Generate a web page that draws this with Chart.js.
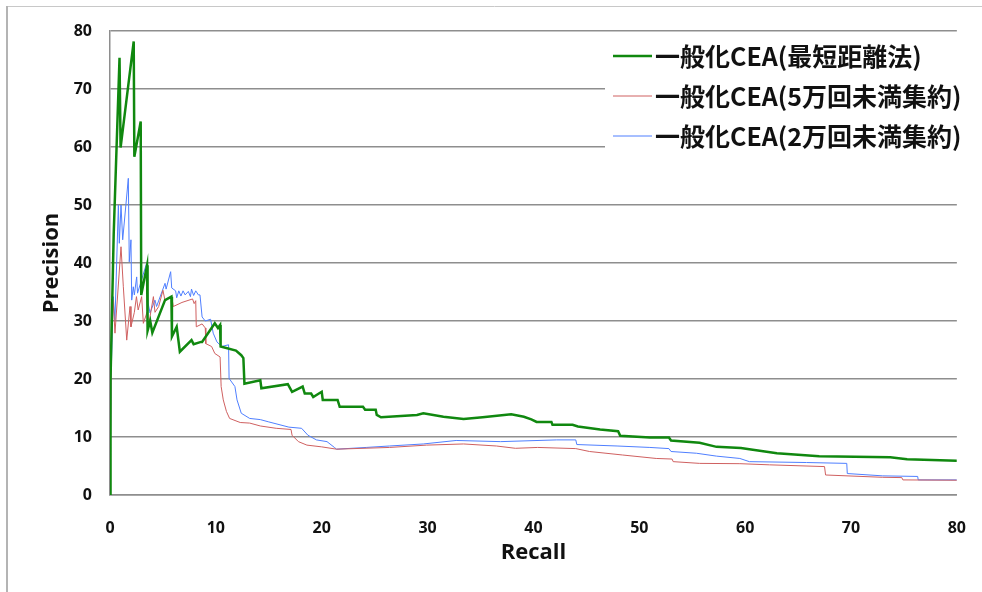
<!DOCTYPE html>
<html>
<head>
<meta charset="utf-8">
<script src="https://cdn.jsdelivr.net/npm/chart.js@4"></script>
<style>
  html, body { margin: 0; padding: 0; background: #fff; }
  #wrap { width: 982px; height: 592px; }
</style>
</head>
<body>
<div id="wrap"><canvas id="chart" width="982" height="592"></canvas></div>
<script>
  // 一般化CEA(最短距離法)
  const greenRecall = [0, 0.05, 0.35, 0.9, 1.0, 2.24, 2.3, 2.9, 2.95, 3.5, 3.55, 3.8, 4.0, 5.2, 5.8, 5.85, 6.3, 6.6, 7.7, 7.9, 8.6, 8.7, 9.9, 10.2, 10.4, 10.45, 11.9, 12.4, 12.6, 12.7, 14.2, 14.3, 16.8, 17.2, 18.2, 18.4, 19.0, 19.2, 20.0, 20.1, 21.5, 21.7, 23.9, 24.1, 25.1, 25.2, 25.6, 29.0, 29.6, 31.5, 33.4, 35.2, 37.9, 39.1, 39.8, 40.3, 41.7, 41.8, 43.7, 44.2, 46.3, 48.0, 48.2, 51.0, 52.8, 53.0, 55.7, 57.3, 59.6, 60.4, 63.0, 67.0, 73.7, 75.3, 80.0];
  const greenPrecision = [0, 20, 45, 75.4, 59.9, 78.2, 58.3, 64.4, 34.5, 39.6, 28.3, 30.0, 28.0, 33.6, 34.2, 27.3, 29.0, 24.7, 26.7, 26.0, 26.4, 26.4, 29.6, 28.8, 29.3, 25.6, 24.9, 24.1, 23.6, 19.2, 19.8, 18.4, 19.1, 17.8, 18.7, 17.5, 17.5, 16.9, 17.8, 16.4, 16.4, 15.2, 15.2, 14.7, 14.7, 13.8, 13.4, 13.8, 14.1, 13.5, 13.1, 13.4, 13.9, 13.5, 13.05, 12.6, 12.6, 12.1, 12.1, 11.8, 11.3, 11.0, 10.2, 9.9, 9.9, 9.4, 9.0, 8.3, 8.1, 7.9, 7.2, 6.7, 6.5, 6.15, 5.9];

  // 一般化CEA(5万回未満集約)
  const redRecall = [0, 0.1, 0.2, 0.3, 0.47, 1.04, 1.26, 1.58, 1.89, 1.98, 2.3, 2.5, 2.66, 2.99, 3.15, 3.5, 3.62, 4.1, 4.25, 4.6, 5.0, 5.2, 5.83, 5.98, 6.8, 7.8, 7.95, 8.1, 8.15, 8.7, 9.0, 9.05, 9.6, 9.9, 10.4, 10.5, 10.7, 11.0, 11.3, 12.3, 13.2, 14.2, 15.7, 17.1, 17.2, 17.8, 18.6, 20.0, 21.4, 26.4, 29.9, 33.4, 36.5, 38.3, 40.4, 44.0, 45.3, 48.4, 51.6, 53.1, 53.2, 55.7, 59.5, 62.3, 67.5, 67.6, 73.0, 74.8, 74.9, 80.0];
  const redPrecision = [0, 20, 33.6, 33.6, 27.9, 42.8, 35.9, 26.7, 32.5, 29.0, 31.5, 34.2, 31.9, 34.2, 29.6, 31.5, 29.0, 34.2, 31.5, 32.5, 35.3, 33.5, 34.2, 32.5, 33.2, 33.8, 33.0, 33.5, 29.0, 29.5, 28.8, 26.1, 25.6, 24.4, 23.8, 18.7, 16.4, 14.4, 13.2, 12.5, 12.4, 11.9, 11.5, 11.3, 10.3, 9.2, 8.6, 8.3, 7.9, 8.2, 8.6, 8.8, 8.45, 8.05, 8.2, 8.0, 7.5, 6.9, 6.3, 6.2, 5.75, 5.45, 5.4, 5.2, 4.9, 3.45, 3.05, 3.0, 2.6, 2.55];

  // 一般化CEA(2万回未満集約)
  const blueRecall = [0, 0.1, 0.3, 0.47, 0.79, 0.88, 1.04, 1.2, 1.73, 1.82, 1.98, 2.05, 2.2, 2.3, 2.52, 2.6, 3.45, 3.6, 3.78, 4.25, 4.4, 5.2, 5.3, 5.73, 5.83, 6.2, 6.3, 6.5, 6.7, 6.9, 7.1, 7.4, 7.6, 7.7, 7.9, 8.1, 8.35, 8.5, 8.7, 9.0, 9.5, 9.75, 10.1, 10.55, 11.2, 11.25, 11.8, 12.0, 12.4, 13.2, 14.2, 15.0, 16.9, 18.1, 18.7, 19.5, 20.5, 21.2, 21.4, 24.2, 26.4, 29.6, 32.7, 36.9, 42.2, 44.0, 44.1, 47.9, 51.0, 52.8, 53.0, 55.4, 57.3, 59.5, 60.4, 65.8, 69.6, 69.65, 73.0, 76.3, 76.35, 80.0];
  const bluePrecision = [0, 20, 34.2, 30.2, 50.0, 43.4, 50.0, 44.0, 54.6, 40.2, 44.0, 33.6, 35.9, 34.5, 37.6, 34.8, 39.9, 33.1, 31.4, 33.6, 32.5, 36.5, 35.5, 38.5, 35.7, 35.2, 34.0, 35.2, 34.3, 35.2, 34.5, 35.1, 34.2, 35.5, 34.4, 35.2, 34.5, 34.5, 30.7, 30.0, 30.3, 27.9, 26.4, 25.6, 25.9, 20.1, 18.7, 16.4, 14.1, 13.2, 13.0, 12.6, 11.7, 11.5, 10.3, 9.5, 9.2, 8.2, 7.9, 8.2, 8.45, 8.8, 9.4, 9.2, 9.5, 9.5, 8.7, 8.45, 8.2, 8.0, 7.5, 7.2, 6.7, 6.3, 5.75, 5.6, 5.45, 3.7, 3.3, 3.2, 2.6, 2.6];

  const seriesLabels = ["一般化CEA(最短距離法)", "一般化CEA(5万回未満集約)", "一般化CEA(2万回未満集約)"];
  const axisTicks = [0, 10, 20, 30, 40, 50, 60, 70, 80];

  const toPoints = (xs, ys) => xs.map((x, i) => ({ x: x, y: ys[i] }));

  const tickFont = { family: "'Open Sans', sans-serif", size: 16, weight: "bold" };
  const titleFont = { family: "'Open Sans', sans-serif", size: 22, weight: "bold" };

  // page frame lines (top and left)
  const framePlugin = {
    id: "frame",
    beforeDraw(chart) {
      const ctx = chart.ctx;
      ctx.save();
      ctx.strokeStyle = "#c8c8c8";
      ctx.lineWidth = 1;
      ctx.beginPath();
      ctx.moveTo(7, 6.5);
      ctx.lineTo(982, 6.5);
      ctx.stroke();
      ctx.strokeStyle = "#b4b4b4";
      ctx.lineWidth = 2;
      ctx.beginPath();
      ctx.moveTo(7, 6);
      ctx.lineTo(7, 592);
      ctx.stroke();
      ctx.restore();
    }
  };

  // legend box in the top right of the plot
  const legendPlugin = {
    id: "boxLegend",
    afterDraw(chart) {
      const ctx = chart.ctx;
      ctx.save();
      ctx.fillStyle = "#fff";
      ctx.fillRect(605, 34, 377, 123);
      ctx.font = "bold 25px 'Noto Sans CJK JP', sans-serif";
      ctx.textBaseline = "middle";
      ctx.fillStyle = "#111";
      chart.data.datasets.forEach((ds, i) => {
        const y = 56 + i * 40;
        ctx.strokeStyle = ds.borderColor;
        ctx.lineWidth = ds.borderWidth;
        ctx.beginPath();
        ctx.moveTo(613, y);
        ctx.lineTo(652, y);
        ctx.stroke();
        ctx.fillText(ds.label, 655, y);
      });
      ctx.restore();
    }
  };

  new Chart(document.getElementById("chart").getContext("2d"), {
    type: "line",
    data: {
      datasets: [
        { label: seriesLabels[0], data: toPoints(greenRecall, greenPrecision), borderColor: "#10880f", borderWidth: 2.5 },
        { label: seriesLabels[1], data: toPoints(redRecall, redPrecision), borderColor: "#cf6060", borderWidth: 1 },
        { label: seriesLabels[2], data: toPoints(blueRecall, bluePrecision), borderColor: "#4f7fff", borderWidth: 1 }
      ]
    },
    options: {
      responsive: false,
      animation: false,
      parsing: true,
      elements: { point: { radius: 0 }, line: { tension: 0, borderJoinStyle: "miter" } },
      layout: { padding: { top: 31, right: 25, left: 0, bottom: 0 } },
      plugins: { legend: { display: false }, tooltip: { enabled: false } },
      scales: {
        x: {
          type: "linear",
          min: 0, max: 80,
          afterBuildTicks: s => { s.ticks = axisTicks.map(v => ({ value: v })); },
          afterFit: s => { s.height = 97; },
          grid: { display: false },
          border: { display: true, color: "#8e8e8e", width: 1.5 },
          ticks: { font: tickFont, color: "#111", padding: 16, maxRotation: 0 },
          title: { display: true, text: "Recall", font: titleFont, color: "#111", padding: { top: 0, bottom: 26 } }
        },
        y: {
          min: 0, max: 80,
          afterBuildTicks: s => { s.ticks = axisTicks.map(v => ({ value: v })); },
          afterFit: s => { s.width = 110; },
          grid: { color: "#8e8e8e", lineWidth: 1.5, drawTicks: false },
          border: { display: true, color: "#8e8e8e", width: 1.5 },
          ticks: { font: tickFont, color: "#111", padding: 18 },
          title: { display: true, text: "Precision", font: titleFont, color: "#111", padding: { top: 39, bottom: 0 } }
        }
      }
    },
    plugins: [framePlugin, legendPlugin]
  });
</script>
</body>
</html>
